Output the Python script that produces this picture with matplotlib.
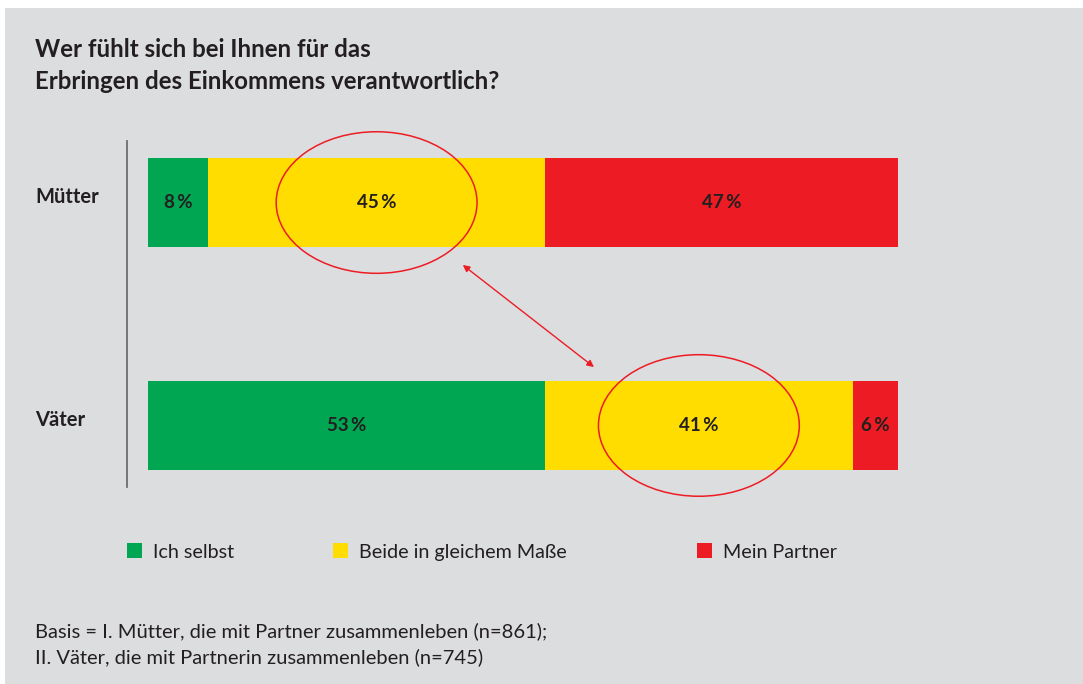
import matplotlib
matplotlib.use("Agg")
import matplotlib.pyplot as plt
import matplotlib.transforms as mtransforms
from matplotlib.patches import Ellipse, Patch, Rectangle

# -----------------------------
# Data
# -----------------------------
groups = ["Mütter", "Väter"]
series = ["Ich selbst", "Beide in gleichem Maße", "Mein Partner"]
ich_selbst = [8, 53]
beide = [45, 41]
partner = [47, 6]
highlight = "Beide in gleichem Maße"

title = "Wer fühlt sich bei Ihnen für das\nErbringen des Einkommens verantwortlich?"
note_lines = [
    "Basis = I. Mütter, die mit Partner zusammenleben (n=861);",
    "II. Väter, die mit Partnerin zusammenleben (n=745)",
]

# -----------------------------
# Style
# -----------------------------
GREEN = "#00a651"
YELLOW = "#ffdd00"
RED = "#ed1c24"
INK = "#231f20"
BG = "#dcdddf"
colors = [GREEN, YELLOW, RED]

plt.rcParams["font.family"] = ["Lato", "DejaVu Sans"]

W, H = 1083, 684
fig = plt.figure(figsize=(W / 100, H / 100), dpi=100)
fig.patch.set_facecolor("white")
fig.add_artist(Rectangle((5 / W, 0), 1, (H - 8) / H, transform=fig.transFigure,
                         facecolor=BG, edgecolor="none", zorder=-10))

ax = fig.add_axes([148 / W, (H - 487) / H, 749.5 / W, 346 / H])
ax.patch.set_visible(False)
ax.set_xlim(0, 100)
ax.set_ylim(1.276, -0.276)
for s in ("top", "right", "bottom"):
    ax.spines[s].set_visible(False)
ax.spines["left"].set_position(("outward", 15))
ax.spines["left"].set_color("#6d6e70")
ax.spines["left"].set_linewidth(1.3)
ax.set_xticks([])
ax.set_yticks([])

ypos = list(range(len(groups)))
values = [ich_selbst, beide, partner]
lefts = [0] * len(groups)
for name, vals, col in zip(series, values, colors):
    ax.barh(ypos, vals, left=lefts, height=0.4, color=col, edgecolor="none", zorder=2)
    for y, l, v in zip(ypos, lefts, vals):
        cx = l + v / 2
        ax.text(cx, y, f"{v}\u2009%", ha="center", va="center", fontsize=13.5,
                fontweight="bold", color=INK, zorder=4)
        if name == highlight:
            ax.add_patch(Ellipse((cx, y), width=26.8, height=0.635, fill=False,
                                 edgecolor=RED, linewidth=1.1, clip_on=False, zorder=5))
    lefts = [a + b for a, b in zip(lefts, vals)]

# double arrow linking the two highlighted segments
ax.annotate("", xy=(42.0, 0.28), xytext=(59.5, 0.738),
            arrowprops=dict(arrowstyle="<|-|>", color=RED, lw=1.0,
                            mutation_scale=10, shrinkA=0, shrinkB=0),
            annotation_clip=False, zorder=5)

# group labels at left edge of the panel
tr = mtransforms.blended_transform_factory(fig.transFigure, ax.transData)
for y, g in zip(ypos, groups):
    ax.text(35 / W, y - 0.025, g, transform=tr, ha="left", va="center",
            fontsize=14.5, fontweight="bold", color=INK)

# title
fig.text(35 / W, 1 - 57 / H, title.split("\n")[0], ha="left", va="baseline",
         fontsize=17.3, fontweight="bold", color=INK)
fig.text(35 / W, 1 - 89 / H, title.split("\n")[1], ha="left", va="baseline",
         fontsize=17.3, fontweight="bold", color=INK)

# legend: one entry per slot
legend_x = [127, 333, 697]
for name, col, lx in zip(series, colors, legend_x):
    leg = fig.legend(handles=[Patch(facecolor=col, edgecolor="none")], labels=[name],
                     loc="center left", bbox_to_anchor=(lx / W, 1 - 552 / H),
                     frameon=False, fontsize=14.2, handlelength=0.75, handleheight=0.75,
                     handletextpad=0.55, borderpad=0, borderaxespad=0)
    for t in leg.get_texts():
        t.set_color(INK)

# footnote
fig.text(35 / W, 1 - 637 / H, note_lines[0], ha="left", va="baseline",
         fontsize=14.5, color=INK)
fig.text(35 / W, 1 - 663 / H, note_lines[1], ha="left", va="baseline",
         fontsize=14.5, color=INK)

fig.savefig("out.png", dpi=100, facecolor=fig.get_facecolor())
